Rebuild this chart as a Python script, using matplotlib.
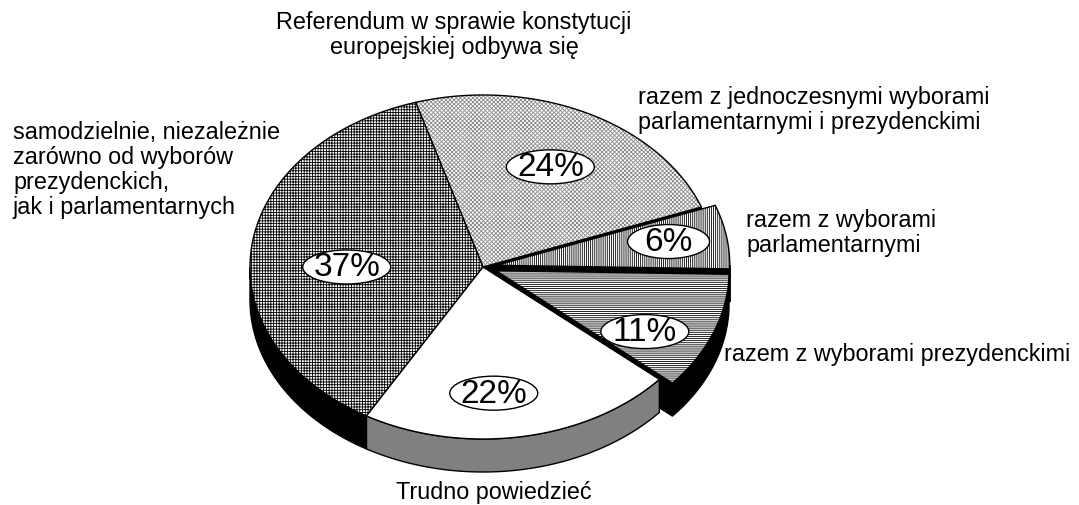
import numpy as np
import matplotlib
matplotlib.use("Agg")
import matplotlib.pyplot as plt
from matplotlib.patches import Polygon, Ellipse

plt.rcParams['font.family'] = ['Liberation Sans', 'DejaVu Sans']
plt.rcParams['hatch.linewidth'] = 0.6

# dane (kolejnosc zgodnie z ruchem wskazowek zegara, od gory)
labels = ['razem z jednoczesnymi wyborami\nparlamentarnymi i prezydenckimi',
          'razem z wyborami\nparlamentarnymi',
          'razem z wyborami prezydenckimi',
          'Trudno powiedzieć',
          'samodzielnie, niezależnie\nzarówno od wyborów\nprezydenckich,\njak i parlamentarnych']
values = [24, 6, 11, 22, 37]
title = 'Referendum w sprawie konstytucji\neuropejskiej odbywa się'

# wyglad
hatches = ['xxxxxxxx', '||||||||', '--------', '', '++++++']
hatch_colors = ['#8a8a8a', 'black', 'black', 'white', 'black']
side_colors = ['black', 'black', 'black', '#808080', 'black']
explode = [0, 0.06, 0.06, 0, 0]
label_r = [0.65, 0.75, 0.73, 0.735, 0.585]
label_shift = [0, 1, -8, -6, 6.6]

cx, cy, rx, ry, depth = 483, 267, 233, 172, 33
start = 106.8

fig = plt.figure(figsize=(10.79, 5.05), dpi=100)
ax = fig.add_axes([0, 0, 1, 1])
ax.set_xlim(0, 1079)
ax.set_ylim(505, 0)
ax.axis('off')


def pt(t, ox, oy, dz=0):
    r = np.radians(t)
    return cx + ox + rx * np.cos(r), cy + oy - ry * np.sin(r) + dz


def arc(a, b, ox, oy, dz=0, n=80):
    ts = np.linspace(a, b, n)
    return [pt(t, ox, oy, dz) for t in ts]


total = float(sum(values))
slices = []
a2 = start
for i, v in enumerate(values):
    a1 = a2 - v / total * 360
    m = (a1 + a2) / 2
    d = explode[i] * rx
    ox = d * np.cos(np.radians(m))
    oy = -d * (ry / rx) * np.sin(np.radians(m))
    slices.append((i, a1, a2, m, ox, oy))
    a2 = a1

# od tylu do przodu
order = sorted(slices, key=lambda s: -np.sin(np.radians(s[3])))

# boki
z = 1
for i, a1, a2, m, ox, oy in order:
    c0 = (cx + ox, cy + oy)
    faces = []
    if np.cos(np.radians(a2)) < 0:
        faces.append(a2)
    if np.cos(np.radians(a1)) > 0:
        faces.append(a1)
    for f in faces:
        p = pt(f, ox, oy)
        poly = [c0, p, (p[0], p[1] + depth), (c0[0], c0[1] + depth)]
        ax.add_patch(Polygon(poly, closed=True, facecolor=side_colors[i],
                             edgecolor='black', lw=1, zorder=z))
    for k in (-1, 0, 1):
        lo = max(a1, -180 + 360 * k)
        hi = min(a2, 360 * k)
        if hi > lo:
            top = arc(lo, hi, ox, oy)
            bot = arc(hi, lo, ox, oy, depth)
            ax.add_patch(Polygon(top + bot, closed=True, facecolor=side_colors[i],
                                 edgecolor='black', lw=1, zorder=z))
    z += 1

# wierzch
for i, a1, a2, m, ox, oy in order:
    poly = [(cx + ox, cy + oy)] + arc(a2, a1, ox, oy)
    ax.add_patch(Polygon(poly, closed=True, facecolor='white',
                         edgecolor=hatch_colors[i], hatch=hatches[i], lw=0, zorder=z))
    ax.add_patch(Polygon(poly, closed=True, fill=False,
                         edgecolor='black', lw=1, zorder=z + 0.5))
    z += 1

# etykiety procentowe
for i, a1, a2, m, ox, oy in slices:
    t = np.radians(m + label_shift[i])
    x = cx + ox + label_r[i] * rx * np.cos(t)
    y = cy + oy - label_r[i] * ry * np.sin(t)
    w = 82 if values[i] < 10 else 88
    ax.add_patch(Ellipse((x, y), w, 34, facecolor='white', edgecolor='black',
                         lw=1, zorder=50))
    ax.text(x, y + 1, f'{values[i]}%', fontsize=24, ha='center', va='center',
            zorder=51)

# opisy
fs = 16.8
ax.text(454, 35, title, fontsize=fs, ha='center', va='center', linespacing=1.1)
ax.text(638, 110, labels[0], fontsize=fs, ha='left', va='center', linespacing=1.1)
ax.text(746, 233, labels[1], fontsize=fs, ha='left', va='center', linespacing=1.1)
ax.text(724, 354, labels[2], fontsize=fs, ha='left', va='center')
ax.text(494, 493, labels[3], fontsize=fs, ha='center', va='center')
ax.text(13, 170, labels[4], fontsize=fs, ha='left', va='center', linespacing=1.1)

fig.savefig('out.png', dpi=100)
